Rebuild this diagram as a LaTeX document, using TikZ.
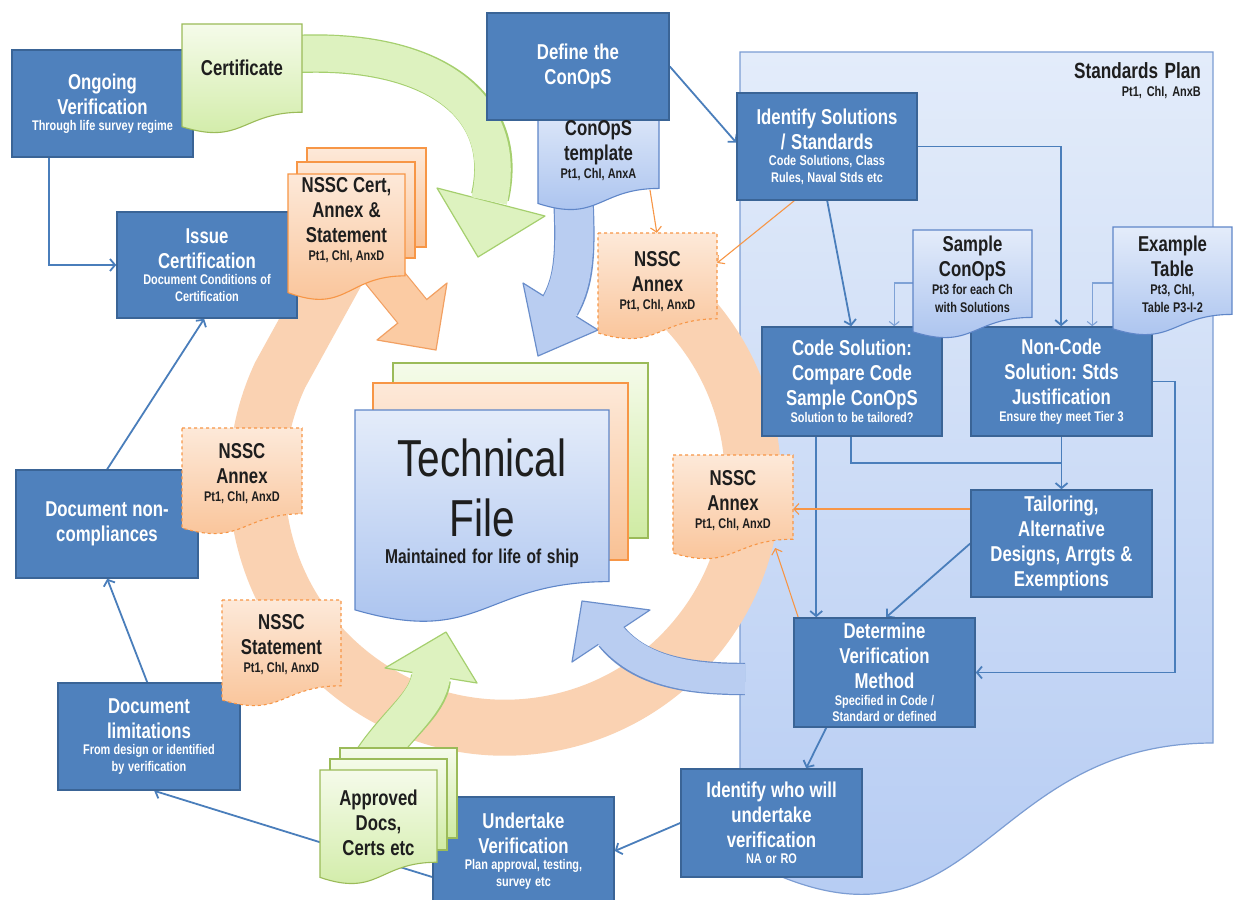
\documentclass[tikz,border=0pt]{standalone}
\usepackage{fontspec}
\setmainfont{Liberation Sans}[FakeStretch=0.78]
\usetikzlibrary{arrows.meta,calc}
\definecolor{boxfill}{HTML}{4F81BD}
\definecolor{boxline}{HTML}{3A6496}
\definecolor{connc}{HTML}{4A7EBB}
\definecolor{connl}{HTML}{7FA2D6}
\definecolor{panelt}{HTML}{E3ECFA}
\definecolor{panelb}{HTML}{B2C9F2}
\definecolor{panell}{HTML}{7C9DD3}
\definecolor{bdoct}{HTML}{E4ECFA}
\definecolor{bdocb}{HTML}{A6C0EE}
\definecolor{bdocl}{HTML}{5F86C8}
\definecolor{odoct}{HTML}{FDE9D9}
\definecolor{odocb}{HTML}{F9C194}
\definecolor{odocl}{HTML}{F79646}
\definecolor{gdoct}{HTML}{F5FBEA}
\definecolor{gdocb}{HTML}{CFEBA3}
\definecolor{gdocl}{HTML}{9BBB59}
\definecolor{ringc}{HTML}{FAD2B2}
\definecolor{oarrf}{HTML}{FBCBA3}
\definecolor{oarrl}{HTML}{F2A062}
\definecolor{garrf}{HTML}{DDF2BF}
\definecolor{garrl}{HTML}{A5CF6E}
\definecolor{barrf}{HTML}{B9CDF1}
\definecolor{barrl}{HTML}{6A8ECB}
\definecolor{txt}{HTML}{1E1E1E}
\pgfdeclarelayer{bg}
\pgfdeclarelayer{links}
\pgfsetlayers{bg,links,main}
\newcommand\tightsp{\frenchspacing\spaceskip=0.21em plus 0.05em minus 0.03em\relax}
\newcommand\bsub{\par\fontsize{14}{16.5}\selectfont\tightsp}
\newcommand\dsub{\par\fontsize{14}{18}\selectfont\tightsp}
\newcommand\mkbox[6]{\node[box, minimum width={(#4-#2)*1pt}, minimum height={(#5-#3)*1pt}] (#1) at ({(#2+#4)/2},{(#3+#5)/2}) {\tightsp #6\par};}
\newcommand\mkdocpath[5]{\path[#5] (#1,#2) -- (#3,#2) -- (#3,{#2+0.802*(#4-#2)}) .. controls ({(#1+#3)/2},{#2+0.802*(#4-#2)}) and ({(#1+#3)/2},{#2+1.107*(#4-#2)}) .. (#1,{#2+0.934*(#4-#2)}) -- cycle;}
\newcommand\mkdoctext[6]{\node[doctext, minimum width={(#3-#2)*1pt}, minimum height={2*(#5-#4)*1pt}] (#1) at ({(#2+#3)/2},#5) {\tightsp #6\par};}
\newcommand\bigarrow[6]{%
  \draw[#1, line width=#3] #5;
  \path[fill=#2, draw=#1, line width=1.2pt, line join=round] #6;
  \draw[#2, line width=#4, shorten >=-4pt] #5;}
\tikzset{
  box/.style={draw=boxline, fill=boxfill, line width=1.6pt, text=white, font=\bfseries\fontsize{21.5}{25}\selectfont, align=center, text width=174pt, inner sep=0pt},
  doctext/.style={text=txt, font=\bfseries\fontsize{21.5}{25}\selectfont, align=center, text width=116pt, inner sep=0pt},
  bdoc/.style={top color=bdoct, bottom color=bdocb, draw=bdocl, line width=1.1pt},
  odoc/.style={top color=odoct, bottom color=odocb, draw=odocl, line width=1.1pt, dashed},
  ocert/.style={top color=odoct, bottom color=odocb, draw=odocl, line width=1.1pt},
  gdoc/.style={top color=gdoct, bottom color=gdocb, draw=gdocl, line width=1.1pt},
  conn/.style={draw=connc, line width=1.8pt, -{Straight Barb[length=5pt,width=12pt]}},
  plainlink/.style={draw=connc, line width=1.8pt},
  lconn/.style={draw=connl, line width=1.1pt, -{Straight Barb[length=4pt,width=10pt]}},
  oconn/.style={draw=odocl, line width=1.1pt, -{Straight Barb[length=5pt,width=11pt]}}
}
\begin{document}
\begin{tikzpicture}[x=1pt,y=-1pt]
\useasboundingbox (0,0) rectangle (1233,899);

\begin{pgfonlayer}{bg}
\fill[white] (0,0) rectangle (1233,899);
% Standards plan panel
\path[top color=panelt, bottom color=panelb, draw=panell, line width=1.2pt]
  (740,52) -- (1213,52) -- (1213,743) .. controls (976,743) and (976,985) .. (740,857) -- cycle;
% orange ring
\draw[ringc, line width=56pt] (661,287) arc[start angle=-51, end angle=205, radius=248] -- (338,270);
% green arrow from certificate
\bigarrow{garrl}{garrf}{38.4pt}{36pt}{(296,54) .. controls (425,48) and (512,100) .. (490,197)}{(437,188) -- (478,257) -- (545,216) -- cycle}
% orange arrow from NSSC cert stack
\bigarrow{oarrl}{oarrf}{38.4pt}{36pt}{(372,262) -- (412,311)}{(447,283) -- (436,350) -- (377,340) -- cycle}
% blue arrow from ConOpS template
\bigarrow{barrl}{barrf}{40.4pt}{38pt}{(573,192) .. controls (576,250) and (575,280) .. (560,306)}{(523,283) -- (538,356) -- (598,330) -- cycle}
% blue arrow from standards plan
\bigarrow{barrl}{barrf}{32.4pt}{30pt}{(745,679) .. controls (690,679) and (640,672) .. (611,636)}{(650,610) -- (582,601) -- (572,662) -- cycle}
% green arrow from approved docs
\bigarrow{garrl}{garrf}{40.4pt}{38pt}{(370,765) .. controls (395,725) and (428,705) .. (431,678)}{(385,668) -- (446,632) -- (477,683) -- cycle}
\end{pgfonlayer}

% ConOpS template (under the Define box)
\mkdocpath{538}{97}{659}{211}{bdoc}

% process boxes
\mkbox{ongoing}{12}{50}{193}{157}{Ongoing\\Verification\bsub Through life survey regime}
\mkbox{issue}{117}{212}{297}{318}{Issue\\Certification\bsub Document Conditions of\\Certification}
\mkbox{define}{487}{13}{669}{120}{Define the\\ConOpS}
\mkbox{idsol}{737}{93}{917}{200}{Identify Solutions\\/ Standards\bsub Code Solutions, Class\\Rules, Naval Stds etc}
\mkbox{code}{762}{327}{942}{436}{Code Solution:\\Compare Code\\Sample ConOpS\bsub Solution to be tailored?}
\mkbox{noncode}{971}{327}{1152}{436}{Non-Code\\Solution: Stds\\Justification\bsub Ensure they meet Tier 3}
\mkbox{tailor}{971}{490}{1152}{597}{Tailoring,\\Alternative\\Designs, Arrgts \&\\Exemptions}
\mkbox{determine}{794}{618}{975}{727}{Determine\\Verification\\Method\bsub Specified in Code /\\Standard or defined}
\mkbox{whowill}{681}{769}{862}{877}{Identify who will\\undertake\\verification\bsub NA or RO}
\mkbox{undertake}{433}{797}{614}{905}{Undertake\\Verification\bsub Plan approval, testing,\\survey etc}
\mkbox{doclim}{58}{683}{240}{790}{Document\\limitations\bsub From design or identified\\by verification}
\mkbox{noncomp}{16}{470}{198}{578}{Document non-\\compliances}

% Technical file stack
\path[top color=gdoct, bottom color=gdocb, draw=gdocl, line width=1.1pt] (393,363) rectangle (648,538);
\path[top color=odoct, bottom color=odocb, draw=odocl, line width=1.1pt] (373,383) rectangle (628,560);
\mkdocpath{355}{410}{609}{624}{bdoc}
\node[text=txt, align=center, text width=250pt, inner sep=0pt] (tech) at (482,503)
  {\fontsize{52}{60}\selectfont\tightsp Technical\\File\par\bfseries\fontsize{20}{27.5}\selectfont\tightsp Maintained for life of ship\par};

% documents
\mkdocpath{182}{24}{302}{134}{gdoc}
\path[ocert] (307,148) rectangle (426,247);
\path[ocert] (297,162) rectangle (415,258);
\mkdocpath{288}{174}{405}{301}{ocert}
\path[gdoc] (340,748) rectangle (457,838);
\path[gdoc] (330,759) rectangle (447,850);
\mkdocpath{320}{770}{437}{885}{gdoc}
\mkdocpath{598}{233}{717}{340}{odoc}
\mkdocpath{673}{455}{793}{560}{odoc}
\mkdocpath{182}{428}{302}{535}{odoc}
\mkdocpath{222}{600}{341}{707}{odoc}
\mkdocpath{913}{230}{1032}{339}{bdoc}
\mkdocpath{1113}{227}{1232}{336}{bdoc}

\mkdoctext{cert}{182}{302}{24}{68}{Certificate}
\mkdoctext{conops}{538}{659}{97}{151}{ConOpS\\template\dsub Pt1, ChI, AnxA}
\mkdoctext{annexT}{598}{717}{233}{282}{NSSC\\Annex\dsub Pt1, ChI, AnxD}
\mkdoctext{annexR}{673}{793}{455}{501}{NSSC\\Annex\dsub Pt1, ChI, AnxD}
\mkdoctext{annexL}{182}{302}{428}{474}{NSSC\\Annex\dsub Pt1, ChI, AnxD}
\mkdoctext{stmt}{222}{341}{600}{645}{NSSC\\Statement\dsub Pt1, ChI, AnxD}
\mkdoctext{certs}{288}{405}{174}{220}{NSSC Cert,\\Annex \&\\Statement\dsub Pt1, ChI, AnxD}
\mkdoctext{approved}{320}{437}{770}{823}{Approved\\Docs,\\Certs etc}
\mkdoctext{sample}{913}{1032}{230}{274}{Sample\\ConOpS\dsub Pt3 for each Ch\\with Solutions}
\mkdoctext{example}{1113}{1232}{227}{274}{Example\\Table\dsub Pt3, ChI,\\Table P3-I-2}

\node[anchor=north east, align=right, text width=200pt, inner sep=0pt, text=txt, font=\bfseries\fontsize{22}{25}\selectfont] (plan) at (1201,62)
  {\tightsp Standards Plan\par\fontsize{14}{18}\selectfont\tightsp Pt1, ChI, AnxB\par};

% connectors
\coordinate (j1) at (1061.5,463);
\coordinate (cb) at (650,190);
\begin{pgfonlayer}{links}
\draw[conn] ([xshift=38pt]ongoing.south west) |- (issue.west);
\draw[conn] ([xshift=92pt]noncomp.north west) -- ([xshift=88pt]issue.south west);
\draw[conn] ([xshift=90pt]doclim.north west) -- ([xshift=92pt]noncomp.south west);
\draw[conn] ([yshift=-26pt]undertake.west) -- ([xshift=97pt]doclim.south west);
\draw[conn] (whowill.west) -- (undertake.east);
\draw[conn] ([xshift=33pt]determine.south west) -- ([xshift=126pt]whowill.north west);
\draw[conn] (define.east) -- ([yshift=4pt]idsol.west);
\draw[conn] ([xshift=91pt]idsol.south west) -- ([xshift=90pt]code.north west);
\draw[conn] (idsol.east) -| ([xshift=91pt]noncode.north west);
\draw[lconn] ([yshift=-9pt]sample.west) -| ([xshift=133pt]code.north west);
\draw[lconn] ([yshift=-9pt]example.west) -| ([xshift=122pt]noncode.north west);
\draw[plainlink] ([xshift=90pt]code.south west) |- (j1);
\draw[conn] (noncode.south) -- (tailor.north);
\coordinate (c1) at ([xshift=55pt]code.south west);
\draw[conn] (c1) -- (c1 |- determine.north);
\draw[conn] (tailor.west) -- ([xshift=93pt]determine.north west);
\draw[conn] (noncode.east) -- ++(22pt,0) |- (determine.east);
\draw[oconn] (cb) -- ([xshift=59pt]annexT.north west);
\draw[oconn] ([xshift=58pt]idsol.south west) -- ([yshift=19pt]annexT.east);
\coordinate (t1) at ([yshift=34.5pt]tailor.west);
\draw[oconn] (t1) -- (t1 -| annexR.east);
\draw[oconn] ([xshift=5pt]determine.north west) -- ([xshift=-18pt,yshift=-47pt]annexR.east);
\end{pgfonlayer}
\end{tikzpicture}
\end{document}
